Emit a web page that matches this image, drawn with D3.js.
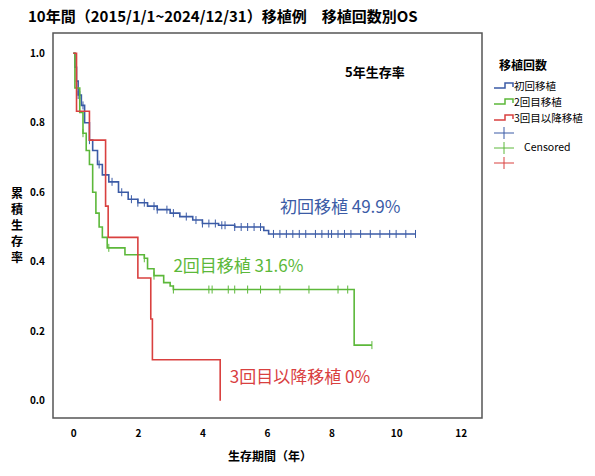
<!DOCTYPE html>
<html><head><meta charset="utf-8">
<script src="https://cdn.jsdelivr.net/npm/d3@7"></script>
<style>body{margin:0;background:#fff}text{font-family:"Noto Sans CJK JP",Arial,sans-serif}</style>
</head><body>
<svg id="c" width="595" height="476"></svg>
<script>
const groups = ["初回移植", "2回目移植", "3回目以降移植"];
const colors = ["#3b5ba6", "#5cb83a", "#d9403f"];
const rateLabels = ["初回移植 49.9%", "2回目移植 31.6%", "3回目以降移植 0%"];
const xTicks = [0, 2, 4, 6, 8, 10, 12];
const yTicks = [0, 0.2, 0.4, 0.6, 0.8, 1.0];

// step curves: time, survival after that time
const blueT = [0, 0.05, 0.1, 0.15, 0.25, 0.35, 0.5, 0.6, 0.75, 0.9, 1.1, 1.4, 1.7, 2.0, 2.3, 2.6, 3.0, 3.3, 3.7, 4.0, 4.5, 5.0, 5.9, 6.05, 10.6];
const blueS = [1.0, 0.96, 0.92, 0.88, 0.85, 0.8, 0.75, 0.72, 0.68, 0.65, 0.63, 0.6, 0.58, 0.57, 0.56, 0.55, 0.54, 0.53, 0.52, 0.51, 0.505, 0.5, 0.49, 0.48, 0.48];
const greenT = [0, 0.05, 0.2, 0.3, 0.4, 0.5, 0.6, 0.7, 0.8, 0.9, 1.05, 1.6, 2.2, 2.3, 2.5, 2.8, 3.0, 3.1, 8.7, 9.25];
const greenS = [1.0, 0.9, 0.83, 0.77, 0.72, 0.68, 0.6, 0.54, 0.5, 0.47, 0.44, 0.42, 0.41, 0.38, 0.36, 0.34, 0.33, 0.32, 0.16, 0.16];
const redT = [0, 0.1, 0.5, 1.0, 1.08, 2.0, 2.4, 2.45, 4.55];
const redS = [1.0, 0.833, 0.75, 0.56, 0.47, 0.353, 0.235, 0.118, 0.0];
const blueCens = [0.15, 0.2, 0.3, 0.5, 0.8, 1.2, 1.5, 1.8, 2.0, 2.2, 2.5, 2.6, 2.9, 3.1, 3.5, 3.8, 4.0, 4.2, 4.4, 4.6, 4.7, 5.0, 5.2, 5.4, 5.6, 5.8, 6.2, 6.4, 6.6, 6.8, 7.0, 7.2, 7.5, 7.7, 7.9, 8.0, 8.2, 8.4, 8.6, 8.9, 9.2, 9.5, 9.8, 10.0, 10.3, 10.6];
const greenCens = [0.3, 1.1, 2.2, 2.5, 3.1, 4.2, 4.3, 4.8, 5.0, 5.4, 5.8, 6.4, 7.3, 8.2, 8.5, 9.25];
const redCens = [];

const curves = [[blueT, blueS, blueCens], [greenT, greenS, greenCens], [redT, redS, redCens]];

const svg = d3.select("#c");
const x = d3.scaleLinear().domain([0, 12]).range([73.3, 460.7]);
const y = d3.scaleLinear().domain([0, 1]).range([400.7, 53.3]);

svg.append("rect").attr("x", 53).attr("y", 33).attr("width", 429).attr("height", 385)
  .attr("fill", "none").attr("stroke", "#555").attr("stroke-width", 1.5);

svg.append("g").attr("transform", "translate(0,418)")
  .call(d3.axisBottom(x).tickValues(xTicks).tickSize(0).tickPadding(12))
  .call(g => g.select(".domain").remove())
  .selectAll("text").attr("font-size", 10).attr("font-weight", "bold").attr("fill", "#000");
svg.append("g").attr("transform", "translate(53,0)")
  .call(d3.axisLeft(y).tickValues(yTicks).tickFormat(d3.format(".1f")).tickSize(0).tickPadding(8))
  .call(g => g.select(".domain").remove())
  .selectAll("text").attr("font-size", 10).attr("font-weight", "bold").attr("fill", "#000");

const line = d3.line().x(d => x(d[0])).y(d => y(d[1])).curve(d3.curveStepAfter);
curves.forEach(([ts, ss, cs], i) => {
  const pts = ts.map((t, k) => [t, ss[k]]);
  svg.append("path").attr("d", line(pts)).attr("fill", "none")
    .attr("stroke", colors[i]).attr("stroke-width", 1.6);
  const sAt = t => { let s = ss[0]; ts.forEach((tt, k) => { if (tt <= t) s = ss[k]; }); return s; };
  svg.append("g").selectAll("line").data(cs).join("line")
    .attr("x1", d => x(d)).attr("x2", d => x(d))
    .attr("y1", d => y(sAt(d)) - 4).attr("y2", d => y(sAt(d)) + 4)
    .attr("stroke", colors[i]).attr("stroke-width", 1);
});

const labelPos = [[6.4, 0.54], [3.1, 0.37], [4.85, 0.05]];
rateLabels.forEach((t, i) => svg.append("text").attr("x", x(labelPos[i][0])).attr("y", y(labelPos[i][1]))
  .attr("font-size", 17).attr("font-family", "Arial, 'Noto Sans CJK JP', sans-serif")
  .attr("fill", colors[i]).text(t));

svg.append("text").attr("x", 345).attr("y", 77).attr("font-size", 13).attr("font-weight", "bold").text("5年生存率");
svg.append("text").attr("x", 28).attr("y", 22).attr("font-size", 15).attr("font-weight", "bold")
  .text("10年間（2015/1/1~2024/12/31）移植例　移植回数別OS");
svg.append("text").attr("x", 270).attr("y", 461).attr("text-anchor", "middle").attr("font-size", 12)
  .attr("font-weight", "bold").text("生存期間（年）");
"累積生存率".split("").forEach((c, i) => svg.append("text").attr("x", 17).attr("y", 198 + i * 16)
  .attr("text-anchor", "middle").attr("font-size", 12).attr("font-weight", "bold").text(c));

// legend
const lg = svg.append("g");
lg.append("text").attr("x", 523).attr("y", 70).attr("text-anchor", "middle").attr("font-size", 12)
  .attr("font-weight", "bold").text("移植回数");
groups.forEach((g, i) => {
  const yy = 86 + i * 16;
  lg.append("path").attr("d", `M494,${yy + 2}H505V${yy - 3}H513V${yy + 1}`).attr("fill", "none")
    .attr("stroke", colors[i]).attr("stroke-width", 1.5);
  lg.append("text").attr("x", 514).attr("y", yy + 4).attr("font-size", 10.5).text(g);
  const cy = 133 + i * 15;
  lg.append("path").attr("d", `M494,${cy}H514M504,${cy - 6}V${cy + 6}`).attr("stroke", colors[i]).attr("stroke-width", 1);
});
lg.append("text").attr("x", 524).attr("y", 151).attr("font-size", 10.5).text("Censored");
</script>
</body></html>
